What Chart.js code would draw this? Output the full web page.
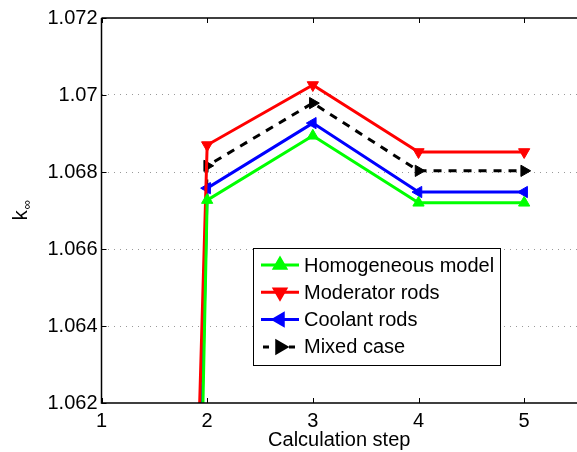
<!DOCTYPE html>
<html>
<head>
<meta charset="utf-8">
<script src="https://cdn.jsdelivr.net/npm/chart.js@4/dist/chart.umd.min.js"></script>
<style>
html,body{margin:0;padding:0;background:#fff;}
#wrap{width:577px;height:452px;position:relative;}
</style>
</head>
<body>
<div id="wrap"><canvas id="c" width="577" height="452"></canvas></div>
<script>
// ---- data ----
const steps = [1, 2, 3, 4, 5];
const homogeneous = [0.935, 1.06727, 1.06894, 1.06720, 1.06720];
const moderator   = [0.974, 1.06870, 1.07026, 1.06852, 1.06852];
const coolant     = [0.950, 1.06758, 1.06927, 1.06748, 1.06748];
const mixed       = [0.964, 1.06816, 1.06979, 1.06803, 1.06803];
const seriesNames = ['Homogeneous model', 'Moderator rods', 'Coolant rods', 'Mixed case'];
const xTicks = [1, 2, 3, 4, 5];
const yTicks = [1.062, 1.064, 1.066, 1.068, 1.070, 1.072];
const yTickLabels = ['1.062', '1.064', '1.066', '1.068', '1.07', '1.072'];
const xTitle = 'Calculation step';

const FONT = '"Liberation Sans", Arial, Helvetica, sans-serif';

function mk(vals) { return steps.map((s, i) => ({x: s, y: vals[i]})); }

const datasets = [
  {label: seriesNames[0], data: mk(homogeneous), borderColor: '#00ff00', backgroundColor: '#00ff00', pointStyle: 'triangle', pointRotation: 0, borderDash: []},
  {label: seriesNames[1], data: mk(moderator), borderColor: '#ff0000', backgroundColor: '#ff0000', pointStyle: 'triangle', pointRotation: 180, borderDash: []},
  {label: seriesNames[2], data: mk(coolant), borderColor: '#0000ff', backgroundColor: '#0000ff', pointStyle: 'triangle', pointRotation: 270, borderDash: []},
  {label: seriesNames[3], data: mk(mixed), borderColor: '#000000', backgroundColor: '#000000', pointStyle: 'triangle', pointRotation: 90, borderDash: [8, 7]}
].map(d => Object.assign(d, {
  borderWidth: 3, pointRadius: 6.5, pointBorderWidth: 1, pointBorderColor: d.borderColor,
  pointBackgroundColor: d.borderColor, tension: 0, fill: false
}));

const framePlugin = {
  id: 'frame',
  afterDraw(chart) {
    const {ctx, chartArea: a, scales} = chart;
    ctx.save();
    ctx.strokeStyle = '#000';
    ctx.lineWidth = 1.5;
    ctx.beginPath();
    ctx.moveTo(a.left, a.top); ctx.lineTo(chart.width, a.top);
    ctx.moveTo(a.left, a.top); ctx.lineTo(a.left, a.bottom);
    ctx.lineTo(chart.width, a.bottom);
    ctx.stroke();
    ctx.lineWidth = 1;
    ctx.beginPath();
    xTicks.forEach(v => {
      const px = Math.round(scales.x.getPixelForValue(v)) + 0.5;
      ctx.moveTo(px, a.bottom); ctx.lineTo(px, a.bottom - 5);
      ctx.moveTo(px, a.top); ctx.lineTo(px, a.top + 5);
    });
    yTicks.forEach(v => {
      const py = Math.round(scales.y.getPixelForValue(v)) + 0.5;
      ctx.moveTo(a.left, py); ctx.lineTo(a.left + 5, py);
    });
    ctx.stroke();

    // y title k∞
    ctx.fillStyle = '#000';
    ctx.translate(20, (a.top + a.bottom) / 2);
    ctx.rotate(-Math.PI / 2);
    ctx.textBaseline = 'alphabetic';
    ctx.textAlign = 'left';
    ctx.font = '20px ' + FONT;
    const kw = ctx.measureText('k').width;
    ctx.font = '13px ' + FONT;
    const iw = ctx.measureText('\u221e').width;
    const total = kw + iw;
    ctx.font = '20px ' + FONT;
    ctx.fillText('k', -total / 2, 7);
    ctx.font = '13px ' + FONT;
    ctx.fillText('\u221e', -total / 2 + kw + 1, 11);
    ctx.restore();

    // legend
    ctx.save();
    const lx = 253, ly = 248, lw = 247, lh = 117;
    ctx.fillStyle = '#fff';
    ctx.fillRect(lx, ly, lw, lh);
    ctx.strokeStyle = '#000';
    ctx.lineWidth = 1;
    ctx.strokeRect(lx + 0.5, ly + 0.5, lw, lh);
    ctx.font = '20px ' + FONT;
    ctx.textBaseline = 'middle';
    ctx.textAlign = 'left';
    chart.data.datasets.forEach((d, i) => {
      const cy = ly + 17 + i * 27.3;
      ctx.strokeStyle = d.borderColor;
      ctx.lineWidth = 3;
      ctx.setLineDash(d.borderDash.length ? [6, 7] : []);
      ctx.beginPath();
      if (d.borderDash.length) { ctx.lineDashOffset = -2; }
      ctx.moveTo(lx + 8, cy); ctx.lineTo(lx + 46, cy);
      ctx.stroke();
      ctx.setLineDash([]);
      ctx.fillStyle = d.borderColor;
      ctx.beginPath();
      Chart.helpers.drawPoint(ctx, {pointStyle: 'triangle', rotation: d.pointRotation, radius: 6.5, borderWidth: 1}, lx + 27, cy);
      ctx.fill();
      ctx.fillStyle = '#000';
      ctx.fillText(d.label, lx + 51, cy + 1);
    });
    ctx.restore();
  }
};

new Chart(document.getElementById('c'), {
  type: 'line',
  data: {datasets},
  options: {
    responsive: false,
    animation: false,
    devicePixelRatio: 1,
    layout: {autoPadding: false, padding: {top: 18, right: -2, left: 0, bottom: 0}},
    plugins: {legend: {display: false}, tooltip: {enabled: false}},
    scales: {
      x: {
        type: 'linear', min: 1, max: 5.5,
        afterBuildTicks(s) { s.ticks = xTicks.map(v => ({value: v})); },
        afterFit(s) { s.height = 49; s.paddingLeft = 0; s.paddingRight = 0; },
        grid: {display: false, drawTicks: false},
        border: {display: false},
        ticks: {color: '#000', font: {family: FONT, size: 20}, padding: 6, maxRotation: 0, autoSkip: false,
          callback: (v) => String(v)},
        title: {display: true, text: xTitle, color: '#000', font: {family: FONT, size: 20}, padding: {top: -4, bottom: 0}}
      },
      y: {
        type: 'linear', min: 1.062, max: 1.072,
        afterBuildTicks(s) { s.ticks = yTicks.map(v => ({value: v})); },
        afterFit(s) { s.width = 101.5; s.paddingTop = 0; s.paddingBottom = 0; },
        grid: {color: (c) => (c.index === 0 || c.index === yTicks.length - 1) ? 'rgba(0,0,0,0)' : '#999', lineWidth: 1, drawTicks: false},
        border: {display: false, dash: [1, 5]},
        ticks: {color: '#000', font: {family: FONT, size: 20}, padding: 4, autoSkip: false,
          callback: (v, i) => yTickLabels[i]}
      }
    }
  },
  plugins: [framePlugin]
});
</script>
</body>
</html>
